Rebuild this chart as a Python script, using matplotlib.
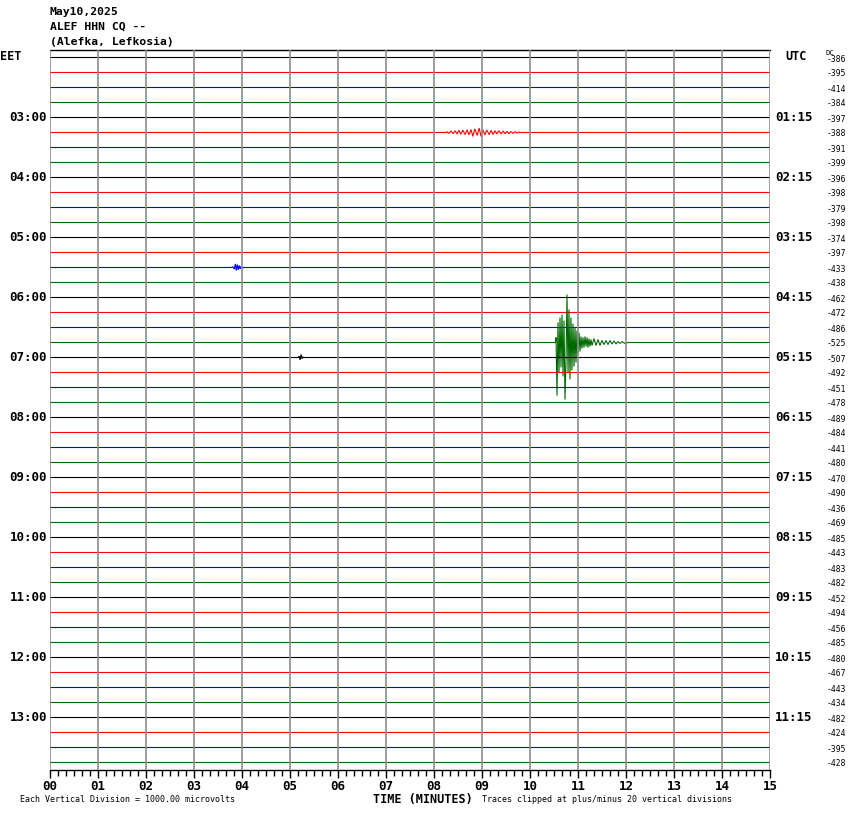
import matplotlib
matplotlib.use("Agg")
import matplotlib.pyplot as plt
import matplotlib.transforms as mtransforms
import numpy as np

# ---------------- data ----------------
title_lines = ["May10,2025", "ALEF HHN CQ --", "(Alefka, Lefkosia)"]
eet_labels = ["03:00", "04:00", "05:00", "06:00", "07:00", "08:00",
              "09:00", "10:00", "11:00", "12:00", "13:00"]
utc_labels = ["01:15", "02:15", "03:15", "04:15", "05:15", "06:15",
              "07:15", "08:15", "09:15", "10:15", "11:15"]
label_rows = [4, 8, 12, 16, 20, 24, 28, 32, 36, 40, 44]
dc_offsets = [-386, -395, -414, -384, -397, -388, -391, -399, -396, -398,
              -379, -398, -374, -397, -433, -438, -462, -472, -486, -525,
              -507, -492, -451, -478, -489, -484, -441, -480, -470, -490,
              -436, -469, -485, -443, -483, -482, -452, -494, -456, -485,
              -480, -467, -443, -434, -482, -424, -395, -428]
minute_labels = ["00", "01", "02", "03", "04", "05", "06", "07", "08", "09",
                 "10", "11", "12", "13", "14", "15"]
trace_colors = ["#000000", "#ff0000", "#0000ff", "#006a00"]

# events (time in minutes, amplitude in vertical divisions)
green_event_row = 19
green_event_t = [10.542, 10.5625, 10.583, 10.604, 10.625, 10.646, 10.667, 10.6875,
                 10.708, 10.729, 10.75, 10.771, 10.792, 10.8125, 10.833, 10.854,
                 10.875, 10.896, 10.917, 10.9375, 10.958, 10.979, 11.0, 11.021,
                 11.042, 11.0625, 11.083, 11.104, 11.125, 11.146, 11.167, 11.1875,
                 11.208, 11.229, 11.25, 11.271, 11.292, 11.333, 11.375, 11.417,
                 11.458, 11.5, 11.542, 11.583, 11.625, 11.667, 11.708, 11.75,
                 11.792, 11.833, 11.875, 11.917, 11.979, 12.042]
green_event_amp = [1.7, -17.7, 6.7, -10.0, 8.3, -8.3, 9.3, -11.3,
                   7.3, -19.0, -6.0, 16.0, -10.0, 11.0, -12.3, 8.3,
                   -9.3, 6.3, -8.0, 5.0, -6.7, 4.0, -4.0, 3.3,
                   -3.0, 2.0, -2.0, 1.7, -1.7, 2.0, -1.3, 1.7,
                   -1.7, 1.3, -1.3, 1.0, -1.0, 1.3, -1.0, 1.0,
                   -1.0, 0.7, -0.7, 0.7, -0.7, 0.7, -0.5, 0.5,
                   -0.5, 0.3, -0.3, 0.3, -0.3, 0.0]

red_event_row = 5
red_event_t = [8.27, 8.31, 8.35, 8.40, 8.44, 8.48, 8.52, 8.56, 8.60, 8.65,
               8.69, 8.73, 8.77, 8.81, 8.85, 8.90, 8.94, 8.98, 9.02, 9.06,
               9.10, 9.15, 9.19, 9.23, 9.27, 9.31, 9.35, 9.40, 9.44, 9.48,
               9.52, 9.56, 9.60, 9.65, 9.69, 9.73, 9.77]
red_event_amp = [0.3, -0.3, 0.5, -0.4, 0.6, -0.5, 0.7, -0.6, 0.8, -0.7,
                 0.9, -0.8, 1.0, -1.3, 1.2, -1.0, 1.5, -1.3, 0.9, -0.8,
                 0.8, -0.7, 0.7, -0.6, 0.6, -0.5, 0.6, -0.5, 0.5, -0.4,
                 0.4, -0.4, 0.3, -0.3, 0.3, -0.2, 0.2]

blue_event_row = 14
blue_event_t = [3.80, 3.84, 3.86, 3.88, 3.90, 3.92, 3.94, 3.96, 3.98, 4.02]
blue_event_amp = [0.3, -0.5, 1.2, -1.0, 1.0, -0.8, 0.7, -0.5, 0.4, -0.2]

black_event_row = 20
black_event_t = [5.19, 5.21, 5.23, 5.25, 5.27]
black_event_amp = [0.4, -0.8, 1.0, -0.4, 0.2]

events = {
    green_event_row: (green_event_t, green_event_amp),
    red_event_row: (red_event_t, red_event_amp),
    blue_event_row: (blue_event_t, blue_event_amp),
    black_event_row: (black_event_t, black_event_amp),
}

# ---------------- figure ----------------
W, H = 850, 814
fig = plt.figure(figsize=(W / 100, H / 100), dpi=100)
fig.patch.set_facecolor("white")

ax_left, ax_right, ax_top, ax_bottom = 50, 770, 50, 770
ax = fig.add_axes([ax_left / W, 1 - ax_bottom / H,
                   (ax_right - ax_left) / W, (ax_bottom - ax_top) / H])
n_rows = len(dc_offsets)
ax.set_xlim(0, 15)
ax.set_ylim(n_rows - 0.5, -0.5)

DIV_PER_ROW = 5.0
CLIP = 20.0
EPS = 0.01

# grid lines
for m in range(16):
    ax.axvline(m, color="#8c8c8c", lw=1.2, zorder=3)

# traces
for i in range(n_rows):
    col = trace_colors[i % 4]
    if i in events:
        t_ev, a_ev = events[i]
        t = [0.0, t_ev[0] - EPS] + list(t_ev) + [t_ev[-1] + EPS, 15.0]
        a = [0.0, 0.0] + list(np.clip(a_ev, -CLIP, CLIP)) + [0.0, 0.0]
    else:
        t = [0.0, 15.0]
        a = [0.0, 0.0]
    y = i - np.asarray(a) / DIV_PER_ROW
    ax.plot(t, y, color=col, lw=0.8, zorder=2, solid_joinstyle="miter",
            snap=False)

# spines / ticks
for s in ["left", "right"]:
    ax.spines[s].set_visible(False)
ax.spines["top"].set_color("black")
ax.spines["top"].set_linewidth(1.0)
ax.spines["bottom"].set_color("black")
ax.spines["bottom"].set_linewidth(1.0)
ax.set_yticks([])
ax.set_xticks(range(16))
ax.set_xticklabels(minute_labels, fontfamily="DejaVu Sans Mono",
                   fontweight="bold", fontsize=9)
ax.set_xticks(np.arange(0, 15.0001, 1 / 6), minor=True)
ax.tick_params(axis="x", which="major", length=5.5, width=1.0, pad=2,
               direction="out", color="black")
ax.tick_params(axis="x", which="minor", length=4.5, width=1.0,
               direction="out", color="black")

mono = "DejaVu Sans Mono"

def fx(x):
    return x / W

def fy(y):
    return 1 - y / H

# titles
for k, line in enumerate(title_lines):
    fig.text(fx(50), fy(12 + 15 * k), line, fontfamily=mono, fontweight="bold",
             fontsize=8.2, ha="left", va="center")

# side labels
trans = mtransforms.blended_transform_factory(ax.transAxes, ax.transData)
xl = (47 - ax_left) / (ax_right - ax_left)
xr = (775 - ax_left) / (ax_right - ax_left)
xdc = (846 - ax_left) / (ax_right - ax_left)
for lab_e, lab_u, r in zip(eet_labels, utc_labels, label_rows):
    ax.text(xl, r, lab_e, transform=trans, ha="right", va="center",
            fontfamily=mono, fontweight="bold", fontsize=9)
    ax.text(xr, r, lab_u, transform=trans, ha="left", va="center",
            fontfamily=mono, fontweight="bold", fontsize=9)
for i, v in enumerate(dc_offsets):
    ax.text(xdc, i + 0.1, f"{v}", transform=trans, ha="right", va="center",
            fontfamily=mono, fontsize=5.8)

fig.text(fx(0), fy(57), "EET", fontfamily=mono, fontweight="bold", fontsize=8.5,
         ha="left", va="center")
fig.text(fx(785), fy(57), "UTC", fontfamily=mono, fontweight="bold", fontsize=8.5,
         ha="left", va="center")
fig.text(fx(826), fy(53), "DC", fontfamily=mono, fontsize=5.2,
         ha="left", va="center")

# bottom texts
fig.text(fx(20), fy(800), "Each Vertical Division = 1000.00 microvolts",
         fontfamily=mono, fontsize=6.0, ha="left", va="center")
fig.text(fx(423), fy(799), "TIME (MINUTES)", fontfamily=mono, fontweight="bold",
         fontsize=8.5, ha="center", va="center")
fig.text(fx(482), fy(800), "Traces clipped at plus/minus 20 vertical divisions",
         fontfamily=mono, fontsize=6.0, ha="left", va="center")

fig.savefig("out.png", dpi=100, facecolor="white")
